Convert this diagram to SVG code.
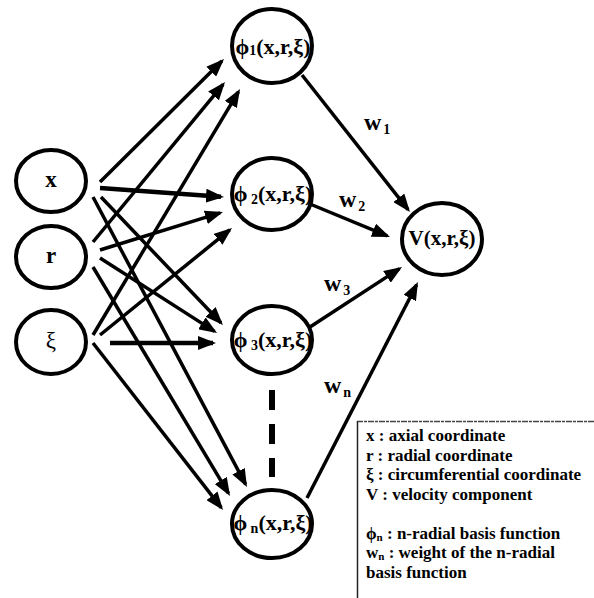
<svg xmlns="http://www.w3.org/2000/svg" width="594" height="598" viewBox="0 0 594 598">
  <defs>
    <marker id="head" viewBox="0 0 18 14" markerWidth="18" markerHeight="14" refX="15" refY="7" orient="auto" markerUnits="userSpaceOnUse">
      <path d="M0,0 L18,7 L0,14 z" fill="#000"/>
    </marker>
  </defs>
  <style>
    .node ellipse { fill: #fff; stroke: #000; stroke-width: 4; }
    .lbl { font-family: "Liberation Serif", "DejaVu Serif", serif; font-weight: bold; text-anchor: middle; fill: #000; }
    .in { font-size: 23px; }
    .hid { font-size: 22px; }
    .sub { font-size: 14px; }
    .wt { font-family: "Liberation Serif", "DejaVu Serif", serif; font-weight: bold; font-size: 24px; fill: #000; }
    .edge line { stroke: #000; stroke-width: 3.5; marker-end: url(#head); }
    .legend text { font-family: "Liberation Serif", "DejaVu Serif", serif; font-weight: bold; font-size: 17px; fill: #000; }
  </style>

  <!-- connectors -->
  <g id="connectors" class="edge">
    <!-- inputs to basis functions -->
    <line x1="100" y1="182" x2="221.9" y2="61.1"/>
    <line x1="100" y1="188" x2="221" y2="196.8" style="stroke-width:4.5"/>
    <line x1="101" y1="197" x2="220.9" y2="322.8"/>
    <line x1="93" y1="197" x2="245.6" y2="484.4"/>
    <line x1="93" y1="242" x2="223.1" y2="84.3"/>
    <line x1="100" y1="250" x2="220.1" y2="212.9"/>
    <line x1="100" y1="258" x2="214.5" y2="331.4"/>
    <line x1="93" y1="267" x2="228.5" y2="493.4"/>
    <line x1="93" y1="335" x2="238.5" y2="91.6"/>
    <line x1="100" y1="335" x2="229.7" y2="229.9"/>
    <line x1="110" y1="343" x2="213" y2="343" style="stroke-width:4.5"/>
    <line x1="93" y1="343" x2="221.2" y2="507.6"/>
    <!-- basis functions to output -->
    <line x1="302" y1="75" x2="408.1" y2="209.6"/>
    <line x1="310" y1="204" x2="387.2" y2="235.9"/>
    <line x1="310" y1="327" x2="399.5" y2="268.6"/>
    <line x1="307" y1="498" x2="416.6" y2="284.7"/>
    <!-- ellipsis between phi_3 and phi_n -->
    <path d="M272,390 V477" style="stroke:#000;stroke-width:6;stroke-dasharray:20 14;fill:none"/>
  </g>

  <!-- input nodes -->
  <g id="node-x" class="node">
    <ellipse cx="51" cy="181" rx="35" ry="31"/>
    <text class="lbl in" x="51" y="187">x</text>
  </g>
  <g id="node-r" class="node">
    <ellipse cx="51" cy="257" rx="35" ry="31"/>
    <text class="lbl in" x="51" y="263">r</text>
  </g>
  <g id="node-xi" class="node">
    <ellipse cx="51" cy="342" rx="35" ry="32"/>
    <text class="lbl in" x="51" y="348" style="font-weight:normal">ξ</text>
  </g>

  <!-- radial basis function nodes -->
  <g id="node-phi1" class="node">
    <ellipse cx="272" cy="46" rx="40" ry="37"/>
    <text class="lbl hid" x="273" y="54">ϕ<tspan class="sub" dy="1">1</tspan><tspan dy="-1">(x,r,ξ)</tspan></text>
  </g>
  <g id="node-phi2" class="node">
    <ellipse cx="272" cy="194" rx="40" ry="36"/>
    <text class="lbl hid" x="273" y="201">ϕ<tspan class="sub" dy="3"> 2</tspan><tspan dy="-3">(x,r,ξ)</tspan></text>
  </g>
  <g id="node-phi3" class="node">
    <ellipse cx="272" cy="340" rx="40" ry="34"/>
    <text class="lbl hid" x="273" y="347">ϕ<tspan class="sub" dy="3"> 3</tspan><tspan dy="-3">(x,r,ξ)</tspan></text>
  </g>
  <g id="node-phin" class="node">
    <ellipse cx="272" cy="524" rx="40" ry="34"/>
    <text class="lbl hid" x="273" y="530">ϕ<tspan class="sub" dy="3"> n</tspan><tspan dy="-3">(x,r,ξ)</tspan></text>
  </g>

  <!-- output node -->
  <g id="node-v" class="node">
    <ellipse cx="442" cy="239" rx="40" ry="36"/>
    <text class="lbl" x="442" y="245" style="font-size:21px">V(x,r,ξ)</text>
  </g>

  <!-- weight labels -->
  <g id="weights">
    <text class="wt" x="364" y="130">w<tspan class="sub" dx="2" dy="4">1</tspan></text>
    <text class="wt" x="339" y="207">w<tspan class="sub" dx="2" dy="4">2</tspan></text>
    <text class="wt" x="324" y="291">w<tspan class="sub" dx="2" dy="4">3</tspan></text>
    <text class="wt" x="324" y="393">w<tspan class="sub" dx="2" dy="4">n</tspan></text>
  </g>

  <!-- legend -->
  <g id="legend" class="legend">
    <path d="M357,421.5 H594" style="stroke:#444;stroke-width:1.3;stroke-dasharray:6 1 3 1;fill:none"/>
    <path d="M357.5,421 V598" style="stroke:#222;stroke-width:1.5;fill:none"/>
    <text x="366" y="441">x : axial coordinate</text>
    <text x="366" y="461">r : radial coordinate</text>
    <text x="366" y="480">ξ : circumferential coordinate</text>
    <text x="366" y="500">V : velocity component</text>
    <text x="366" y="539">ϕ<tspan font-size="11px" dy="2">n</tspan><tspan dy="-2"> : n-radial basis function</tspan></text>
    <text x="366" y="558">w<tspan font-size="11px" dy="2">n</tspan><tspan dy="-2"> : weight of the n-radial</tspan></text>
    <text x="366" y="578">basis function</text>
  </g>
</svg>
